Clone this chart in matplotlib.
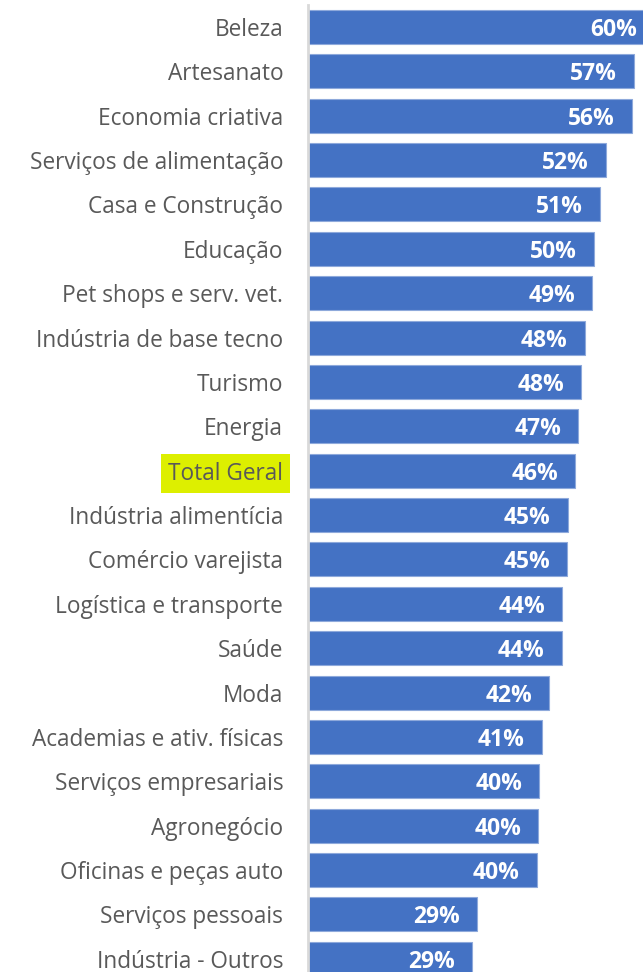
import matplotlib.pyplot as plt

categories = [
    "Beleza", "Artesanato", "Economia criativa", "Serviços de alimentação",
    "Casa e Construção", "Educação", "Pet shops e serv. vet.",
    "Indústria de base tecno", "Turismo", "Energia", "Total Geral",
    "Indústria alimentícia", "Comércio varejista", "Logística e transporte",
    "Saúde", "Moda", "Academias e ativ. físicas", "Serviços empresariais",
    "Agronegócio", "Oficinas e peças auto", "Serviços pessoais",
    "Indústria - Outros",
]
# share (%); labels show the rounded value
values = [60.2, 56.6, 56.3, 51.7, 50.7, 49.7, 49.4, 48.1, 47.5, 47.0, 46.4,
          45.1, 45.0, 44.2, 44.1, 41.9, 40.6, 40.2, 40.0, 39.8, 29.4, 28.6]
highlight = "Total Geral"

plt.rcParams['font.family'] = ['Open Sans', 'DejaVu Sans']

W, H = 643, 972
fig = plt.figure(figsize=(W / 100, H / 100), dpi=100)
x0 = 307.5
ax = fig.add_axes([x0 / W, 0, 1 - x0 / W, 1 - 5 / H])

pitch = 44.37
first = 27.0
ypos = list(range(len(categories)))
ax.barh(ypos, values, height=0.766, color="#4472C4",
        edgecolor="#8EA9DB", linewidth=0.8)

px_per = 5.765
ax.set_xlim(0, (W - x0) / px_per)
ax.set_ylim((H - first) / pitch, -(first - 5) / pitch)

for y, v in zip(ypos, values):
    ax.annotate(f"{round(v)}%", (v, y), xytext=(-17, -3),
                textcoords="offset pixels", ha="right", va="center",
                color="white", fontsize=16.5, fontweight="bold",
                annotation_clip=False, clip_on=False)

ax.set_yticks(ypos)
ax.set_yticklabels(categories, fontsize=16.3, color="#595959")
ax.tick_params(axis="y", length=0, pad=17.5)
ax.set_xticks([])
for lab in ax.get_yticklabels():
    if lab.get_text() == highlight:
        lab.set_bbox(dict(boxstyle="square,pad=0.32", facecolor="#DDEF00",
                          edgecolor="none"))

for s in ["top", "right", "bottom"]:
    ax.spines[s].set_visible(False)
ax.spines["left"].set_color("#D9D9D9")
ax.spines["left"].set_linewidth(2)

fig.savefig("out.png", dpi=100)
